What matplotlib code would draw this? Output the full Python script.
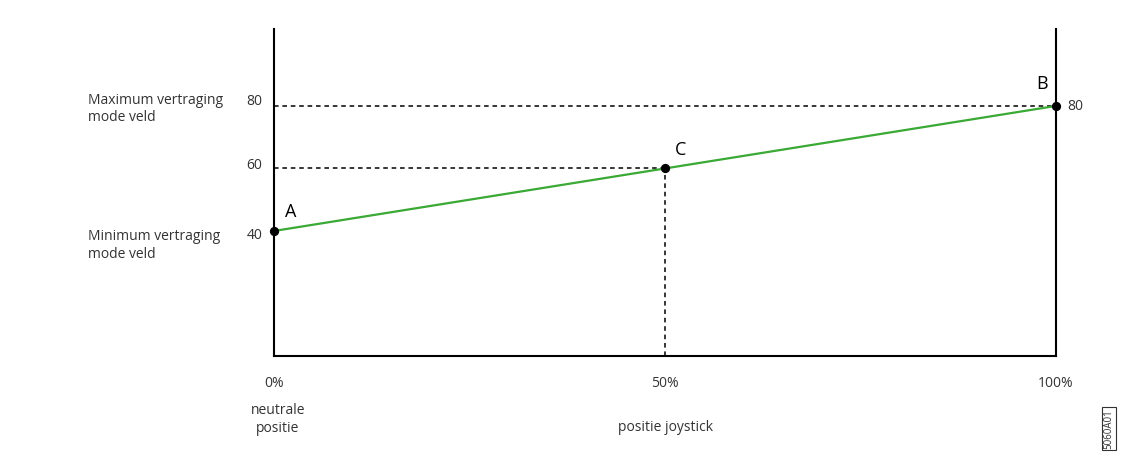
import matplotlib.pyplot as plt

# joystick position (%) vs delay value
positions = [0, 50, 100]
delays = [40, 60, 80]
point_labels = ["A", "C", "B"]
y_ticks = [40, 60, 80]
x_tick_labels = ["0%", "50%", "100%"]

plt.rcParams["font.family"] = ["Open Sans", "DejaVu Sans"]

fig = plt.figure(figsize=(11.25, 4.64), dpi=100)
ax = fig.add_axes([0.2436, 0.2306, 0.6951, 0.7047])
ax.set_xlim(0, 100)
ax.set_ylim(0, 104.6)

for side in ["top", "right"]:
    ax.spines[side].set_visible(False)
for side in ["left", "bottom"]:
    ax.spines[side].set_linewidth(1.5)
ax.axvline(100, color="black", lw=1.5, clip_on=False)

ax.set_xticks([])
ax.set_yticks([])

# dashed helper lines
dash = (0, (3, 2.5))
ax.plot([0, positions[2]], [delays[2], delays[2]], ls=dash, color="black", lw=1.1)
ax.plot([0, positions[1]], [delays[1], delays[1]], ls=dash, color="black", lw=1.1)
ax.plot([positions[1], positions[1]], [0, delays[1]], ls=dash, color="black", lw=1.1)

ax.plot(positions, delays, color="#3aa935", lw=1.6, zorder=3)
ax.scatter(positions, delays, s=32, color="black", zorder=4, clip_on=False)

offsets = {"A": (1.4, 6.5), "C": (1.3, 6.2), "B": (-2.5, 7.2)}
for x, y, lab in zip(positions, delays, point_labels):
    dx, dy = offsets[lab]
    ax.text(x + dx, y + dy, lab, fontsize=13, ha="left", va="center")

fs = 10
tick_dy = {40: -1.0, 60: 1.2, 80: 1.6}
for v in y_ticks:
    ax.text(-1.5, v + tick_dy[v], str(v), fontsize=fs, ha="right", va="center", color="#333333")
ax.text(101.4, delays[2], str(delays[2]), fontsize=fs, ha="left", va="center", color="#333333")

for x, lab in zip(positions, x_tick_labels):
    ax.text(x, -8.5, lab, fontsize=fs, ha="center", va="center", color="#333333")

ax.text(0.5, -20, "neutrale\npositie", fontsize=fs, ha="center", va="center",
        color="#333333", linespacing=1.2)
ax.text(50, -22.5, "positie joystick", fontsize=fs, ha="center", va="center", color="#333333")

ax.text(-23.8, 79.4, "Maximum vertraging\nmode veld", fontsize=fs, ha="left",
        va="center", color="#333333", linespacing=1.2)
ax.text(-23.8, 35.7, "Minimum vertraging\nmode veld", fontsize=fs, ha="left",
        va="center", color="#333333", linespacing=1.2)

fig.text(0.986, 0.075, "5060A01", rotation=90, fontsize=7, ha="center", va="center",
         color="#333333", bbox=dict(boxstyle="square,pad=0.15", fc="white", ec="#333333", lw=0.8))

fig.savefig("out.png", dpi=100, facecolor="white")
